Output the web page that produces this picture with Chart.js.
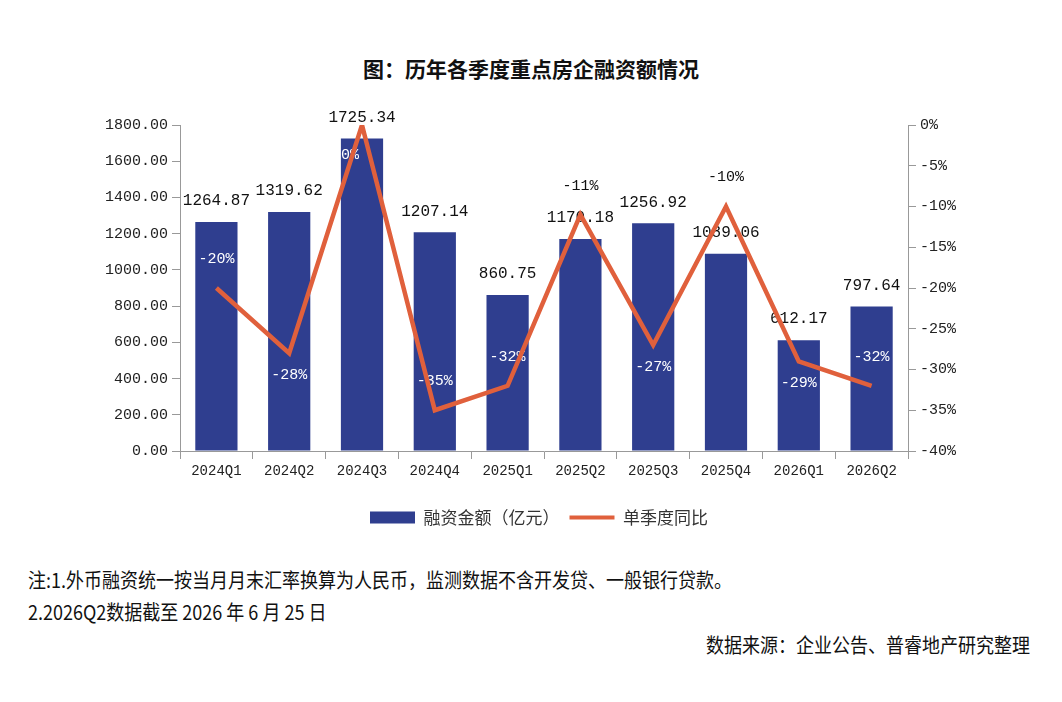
<!DOCTYPE html>
<html>
<head>
<meta charset="utf-8">
<script src="https://cdn.jsdelivr.net/npm/chart.js@4.4.1/dist/chart.umd.min.js"></script>
<style>
body{margin:0;background:#fff;width:1062px;height:702px;overflow:hidden;position:relative;font-family:"Noto Sans CJK SC",sans-serif;color:#111;}
#wrap{position:absolute;left:0;top:0;width:1062px;height:560px;}
.title{position:absolute;top:53px;left:0;width:1062px;line-height:30px;text-align:center;font-weight:bold;font-size:21px;}
.note{position:absolute;font-size:20px;line-height:26px;white-space:nowrap;transform:scaleX(0.9);}
.l{left:28px;transform-origin:left center;}
.r{right:32px;transform-origin:right center;}
</style>
</head>
<body>
<div class="title">图：历年各季度重点房企融资额情况</div>
<div id="wrap"><canvas id="c"></canvas></div>
<div class="note l" style="top:567px">注:1.外币融资统一按当月月末汇率换算为人民币，监测数据不含开发贷、一般银行贷款。</div>
<div class="note l" style="top:599px">2.2026Q2数据截至 2026 年 6 月 25 日</div>
<div class="note r" style="top:632px">数据来源：企业公告、普睿地产研究整理</div>
<script>
// quarters
const quarters=['2024Q1','2024Q2','2024Q3','2024Q4','2025Q1','2025Q2','2025Q3','2025Q4','2026Q1','2026Q2'];
// financing amount, 100m yuan
const amount=[1264.87,1319.62,1725.34,1207.14,860.75,1170.18,1256.92,1089.06,612.17,797.64];
// year-on-year change, %
const yoy=[-20,-28,0,-35,-32,-11,-27,-10,-29,-32];
// where each yoy label sits relative to its point
const yoyLabelSide=['above','below','belowLeft','above','above','above','below','above','below','above'];

const barColor='#2f3e8f';
const lineColor='#e0603c';
const monoFont='"Liberation Mono", monospace';

const labelPlugin={
  id:'valueLabels',
  afterDatasetDraw(chart,args){
    if(args.index!==0) return;
    const ctx=chart.ctx;
    const bars=chart.getDatasetMeta(0).data;
    const pts=chart.getDatasetMeta(1).data;
    ctx.save();
    ctx.textAlign='center';
    ctx.textBaseline='middle';
    ctx.font='16px '+monoFont;
    ctx.fillStyle='#111';
    bars.forEach((b,i)=>ctx.fillText(amount[i].toFixed(2),b.x,b.y-21));
    ctx.font='15px '+monoFont;
    pts.forEach((p,i)=>{
      const side=yoyLabelSide[i];
      let x=p.x,y=p.y;
      if(side==='above') y-=29;
      else y+=22;
      if(side==='belowLeft'){x-=12;y+=8;}
      ctx.fillStyle=y>bars[i].y?'#fff':'#111';
      ctx.fillText(yoy[i]+'%',x,y);
    });
    ctx.restore();
  }
};

new Chart(document.getElementById('c'),{
  type:'bar',
  data:{
    labels:quarters,
    datasets:[{
      label:'融资金额（亿元）',
      data:amount,
      backgroundColor:barColor,
      borderWidth:0,
      barPercentage:0.58,
      categoryPercentage:1,
      yAxisID:'y',
      order:2
    },{
      type:'line',
      label:'单季度同比',
      data:yoy,
      borderColor:lineColor,
      backgroundColor:lineColor,
      borderWidth:4.5,
      pointRadius:0,
      pointStyle:'line',
      tension:0,
      yAxisID:'y1',
      order:1
    }]
  },
  options:{
    responsive:true,
    maintainAspectRatio:false,
    animation:false,
    layout:{padding:{left:100,right:84,top:125,bottom:24}},
    plugins:{
      tooltip:{enabled:false},
      legend:{
        position:'bottom',
        labels:{
          usePointStyle:true,
          pointStyleWidth:45,
          boxHeight:12,
          padding:10,
          color:'#333',
          font:{size:17,family:'"Noto Sans CJK SC", sans-serif'},
          generateLabels(chart){
            const items=Chart.defaults.plugins.legend.labels.generateLabels(chart);
            items.sort((a,b)=>a.datasetIndex-b.datasetIndex);
            items.forEach(it=>{
              if(it.datasetIndex===0){it.pointStyle='rect';it.lineWidth=0;it.fillStyle=barColor;}
              else{it.pointStyle='line';it.lineWidth=4;it.strokeStyle=lineColor;}
            });
            return items;
          }
        }
      }
    },
    scales:{
      x:{
        grid:{offset:true,drawOnChartArea:false,tickLength:8,color:'#999'},
        border:{color:'#999'},
        ticks:{color:'#222',padding:4,font:{size:14,family:monoFont}},
        afterFit(s){s.height=48;}
      },
      y:{
        position:'left',
        min:0,max:1800,
        grid:{drawOnChartArea:false,tickLength:8,color:'#999'},
        border:{color:'#999'},
        ticks:{stepSize:200,color:'#222',padding:4,font:{size:15,family:monoFont},callback:v=>v.toFixed(2)},
        afterFit(s){s.width=80;}
      },
      y1:{
        position:'right',
        min:-40,max:0,
        grid:{drawOnChartArea:false,tickLength:8,color:'#999'},
        border:{color:'#999'},
        ticks:{stepSize:5,color:'#222',padding:4,font:{size:15,family:monoFont},callback:v=>v+'%'},
        afterFit(s){s.width=70;}
      }
    }
  },
  plugins:[labelPlugin]
});
</script>
</body>
</html>
